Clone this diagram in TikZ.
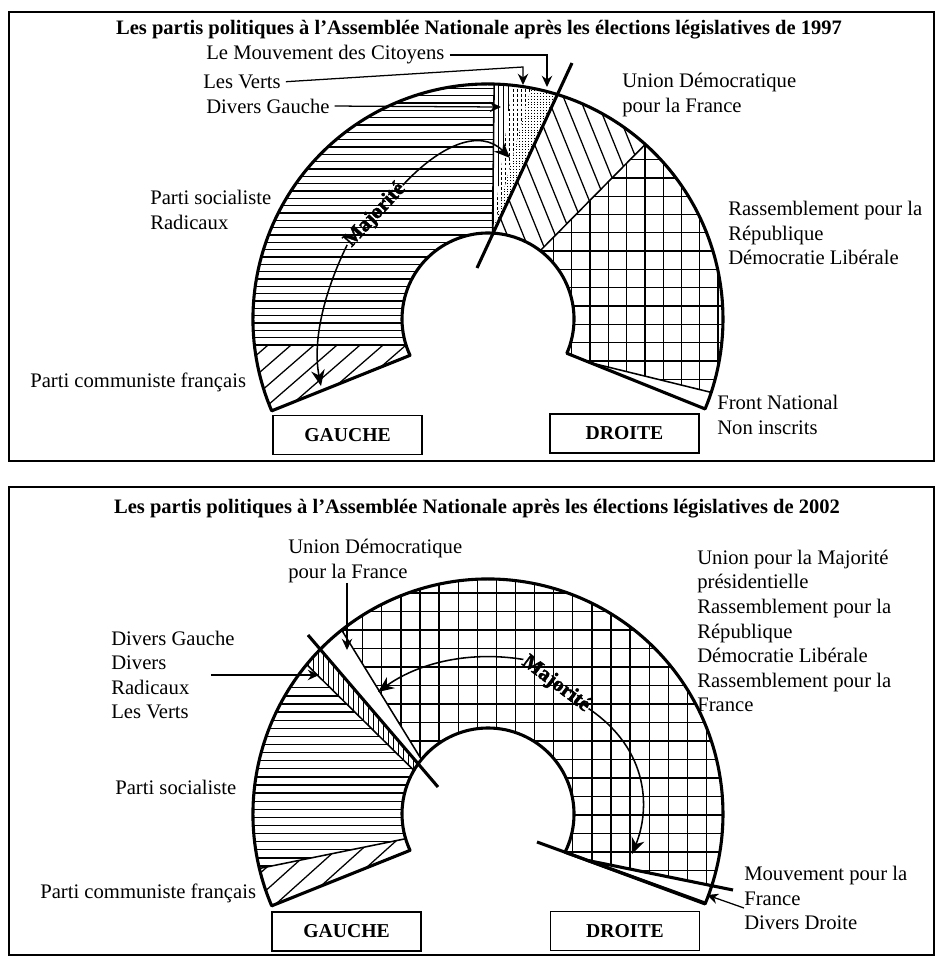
\documentclass[tikz,border=0pt]{standalone}
\usepackage{fontspec}
\setmainfont{Liberation Serif}
\newfontfamily\majfont{Liberation Serif Bold}[FakeBold=2]
\usetikzlibrary{arrows.meta}
\tikzset{
  lab/.style    = {font=\fontsize{14.7}{17.5}\selectfont, align=left, anchor=west, inner sep=0pt},
  ttl/.style    = {font=\fontsize{14.6}{17}\selectfont\bfseries, inner sep=0pt},
  side/.style   = {draw, line width=1pt, minimum width=37.25mm, minimum height=9.7mm,
                   font=\fontsize{14}{16}\selectfont\bfseries, inner sep=0pt},
  ring/.style   = {line width=2.2pt, line join=round},
  edge/.style   = {line width=1.1pt},
  hatch/.style  = {line width=0.9pt},
  split/.style  = {line width=2.2pt},
  lead/.style   = {line width=0.9pt, -{Stealth[length=2.8mm, width=2.6mm]}},
  maj/.style    = {line width=1.1pt, -{Stealth[length=4mm, width=3.4mm]}},
  majlab/.style = {font=\fontsize{15}{17}\majfont, inner sep=0.5pt},
  frame/.style  = {line width=1.4pt},
}
\begin{document}
\begin{tikzpicture}[x=0.25mm, y=-0.25mm]
\useasboundingbox (0,0) rectangle (937,963);

% ---------------- 1997 ----------------
\draw[frame] (9,12) rectangle (934,461);
\node (title97) [ttl] at (479,30) {Les partis politiques à l’Assemblée Nationale après les élections législatives de 1997};

\begin{scope}[shift={(488,319)}]
  % Parti communiste francais
  \begin{scope}
    \clip (155:86) -- (157:235) arc[start angle=157, end angle=173.65, radius=235]
      -- (162.4:86) arc[start angle=162.4, end angle=155, radius=86] -- cycle;
    \foreach \x in {-420,-397,...,0} \draw[hatch] (\x,140) -- ++(276,-240);
  \end{scope}
  % Parti socialiste, Radicaux
  \begin{scope}
    \clip (162.4:86) -- (173.65:235) arc[start angle=173.65, end angle=271.5, radius=235]
      -- (273:86) arc[start angle=273, end angle=162.4, radius=86] -- cycle;
    \foreach \k in {0,...,36} \draw[hatch] (-240,26-7.33*\k) -- (20,26-7.33*\k);
  \end{scope}
  % Divers Gauche
  \begin{scope}
    \clip (273:86) -- (271.5:235) arc[start angle=271.5, end angle=275.9, radius=235] -- cycle;
    \foreach \x in {5,10,...,30} \draw[hatch, line width=0.7pt] (\x,-240) -- (\x,-80);
  \end{scope}
  % Les Verts
  \begin{scope}
    \clip (273:86) -- (275.9:235) arc[start angle=275.9, end angle=280.5, radius=235] -- cycle;
    \foreach \x in {5,9,...,50} \draw[line width=0.7pt, dash pattern=on 2pt off 1.5pt] (\x,-240) -- (\x,-80);
  \end{scope}
  % Mouvement des Citoyens
  \begin{scope}
    \clip (273:86) -- (280.5:235) arc[start angle=280.5, end angle=287.2, radius=235] -- cycle;
    \foreach \x in {4,7,...,70} \draw[line width=0.6pt, dash pattern=on 0.6pt off 1.4pt] (\x,-240) -- (\x,-80);
  \end{scope}
  % Union pour la Democratie Francaise
  \begin{scope}
    \clip (273:86) -- (287.2:235) arc[start angle=287.2, end angle=312, radius=235]
      -- (307.4:86) arc[start angle=307.4, end angle=273, radius=86] -- cycle;
    \foreach \x in {-100,-84,...,170} \draw[hatch] (\x,-260) -- ++(89,220);
  \end{scope}
  % RPR, Democratie Liberale
  \begin{scope}
    \clip (307.4:86) -- (312:235) arc[start angle=312, end angle=378.2, radius=235]
      -- (102,43.6) -- (383.5:86) arc[start angle=383.5, end angle=307.4, radius=86] -- cycle;
    \foreach \k in {-2,...,9} \draw[hatch] (83.7+18.3*\k,-240) -- (83.7+18.3*\k,120);
    \foreach \k in {-13,...,7} \draw[hatch] (0,-13+18.3*\k) -- (250,-13+18.3*\k);
  \end{scope}
  \draw[edge] (162.4:86) -- (173.65:235);
  \draw[edge] (273:86) -- (271.5:235);
  \draw[edge] (307.4:86) -- (312:235);
  \draw[edge] (102,43.6) -- (378.2:235);
  \draw[ring] (155:86) -- (157:235) arc[start angle=157, end angle=382.5, radius=235]
    -- (383.5:86) arc[start angle=383.5, end angle=155, radius=86] -- cycle;
\end{scope}
\draw[split] (572,63) -- (477,268);

\node (maj97) [majlab, rotate=47] at (375,215) {Majorité};
\coordinate (tmaj97a) at (510,158);
\coordinate (tmaj97b) at (321,386);
\draw[maj] (maj97.east) .. controls (440,145) and (480,128) .. (tmaj97a);
\draw[maj] (maj97.west) .. controls (325,290) and (312,340) .. (tmaj97b);

\node (mdc97) [lab] at (206,55) {Le Mouvement des Citoyens};
\node (verts97) [lab] at (203,82) {Les Verts};
\node (dg97) [lab] at (206,106) {Divers Gauche};
\node (udf97) [lab] at (622,95) {Union Démocratique\\pour la France};
\node (ps97) [lab] at (150,210) {Parti socialiste\\Radicaux};
\node (rpr97) [lab] at (728,233) {Rassemblement pour la\\République\\Démocratie Libérale};
\node (pcf97) [lab] at (30,382) {Parti communiste français};
\node (fn97) [lab] at (717,415) {Front National\\Non inscrits};
\node (gauche97) [side] at (347.5,435) {GAUCHE};
\node (droite97) [side] at (624.5,433.5) {DROITE};

\coordinate (tmdc97) at (547,87);
\coordinate (tverts97) at (523,85);
\coordinate (tdg97) at (501,107);
\draw[lead, shorten <=1.2mm] (mdc97.east) -| (tmdc97);
\draw[lead, shorten <=1.2mm] (verts97.east) -- ([yshift=4.5mm]tverts97) -- (tverts97);
\draw[lead, shorten <=1.2mm] (dg97.east) -- (tdg97);

% ---------------- 2002 ----------------
\draw[frame] (9,487) rectangle (934,955);
\node (title02) [ttl] at (477,509) {Les partis politiques à l’Assemblée Nationale après les élections législatives de 2002};

\begin{scope}[shift={(488,814)}]
  % Parti communiste francais
  \begin{scope}
    \clip (155:86) -- (157:235) arc[start angle=157, end angle=166.6, radius=235]
      -- (163.3:86) arc[start angle=163.3, end angle=155, radius=86] -- cycle;
    \foreach \x in {-440,-415,...,0} \draw[hatch] (\x,160) -- ++(267,-240);
  \end{scope}
  % Parti socialiste
  \begin{scope}
    \clip (163.3:86) -- (166.6:235) arc[start angle=166.6, end angle=219.5, radius=235]
      -- (210.5:86) arc[start angle=210.5, end angle=163.3, radius=86] -- cycle;
    \foreach \k in {-12,...,25} \draw[hatch] (-240,-29+8.1*\k) -- (0,-29+8.1*\k);
  \end{scope}
  % Divers Gauche, Divers, Radicaux, Les Verts
  \begin{scope}
    \clip (210.5:86) -- (219.5:235) arc[start angle=219.5, end angle=224.3, radius=235]
      -- (215:86) arc[start angle=215, end angle=210.5, radius=86] -- cycle;
    \foreach \x in {-200,-195,...,-60} \draw[hatch, line width=0.7pt] (\x,-200) -- (\x,-20);
  \end{scope}
  % Union pour la Majorite presidentielle
  \begin{scope}
    \clip (219.3:86) -- (231.5:235) arc[start angle=231.5, end angle=378, radius=235]
      -- (100,46.5) -- (386.35:86) arc[start angle=386.35, end angle=219.3, radius=86] -- cycle;
    \foreach \k in {-7,...,16} \draw[hatch] (-68+19.1*\k,-250) -- (-68+19.1*\k,120);
    \foreach \k in {-1,...,18} \draw[hatch] (-200,-221+18.5*\k) -- (250,-221+18.5*\k);
  \end{scope}
  \draw[edge] (163.3:86) -- (166.6:235);
  \draw[edge] (210.5:86) -- (219.5:235);
  \draw[edge] (219.3:86) -- (231.5:235);
  \draw[ring] (155:86) -- (157:235) arc[start angle=157, end angle=382.5, radius=235]
    -- (386.35:86) arc[start angle=386.35, end angle=155, radius=86] -- cycle;
\end{scope}
\draw[split] (308,635) -- (438,787);
\draw[split] (537,842) -- (705,903);
\draw[split] (588,860.5) -- (733,890);

\node (maj02) [majlab, rotate=-37] at (556,684) {Majorité};
\coordinate (tmaj02a) at (378,692);
\coordinate (tmaj02b) at (632,854);
\draw[maj] (maj02.west) .. controls (465,650) and (415,665) .. (tmaj02a);
\draw[maj] (maj02.east) .. controls (650,750) and (650,810) .. (tmaj02b);

\node (udf02) [lab] at (288,561) {Union Démocratique\\pour la France};
\node (ump02) [lab] at (697,631) {Union pour la Majorité\\présidentielle\\Rassemblement pour la\\République\\Démocratie Libérale\\Rassemblement pour la\\France};
\node (dg02) [lab] at (111,675) {Divers Gauche\\Divers\\Radicaux\\Les Verts};
\node (ps02) [lab] at (115,787) {Parti socialiste};
\node (pcf02) [lab] at (40,893) {Parti communiste français};
\node (mpf02) [lab] at (744,898) {Mouvement pour la\\France\\Divers Droite};
\node (gauche02) [side] at (346.5,931.5) {GAUCHE};
\node (droite02) [side] at (625,931) {DROITE};

\coordinate (tudf02) at (347,650);
\coordinate (tdg02) at (319,675);
\coordinate (tmpf02) at (707,895);
\draw[lead] (udf02.south -| tudf02) -- (tudf02);
\draw[lead] ([xshift=-6mm]dg02.east |- tdg02) -- (tdg02);
\draw[lead] ([yshift=-2.5mm]mpf02.west) -- (tmpf02);

\end{tikzpicture}
\end{document}
